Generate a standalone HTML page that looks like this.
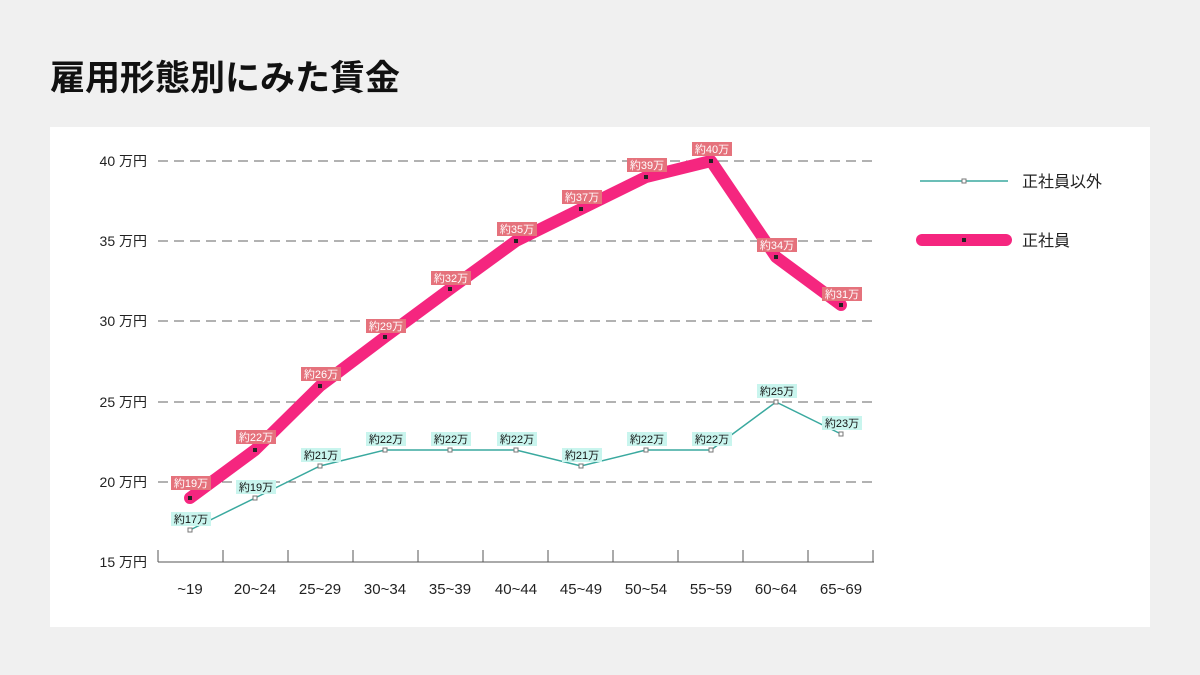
<!DOCTYPE html>
<html><head><meta charset="utf-8"><style>
body{margin:0;width:1200px;height:675px;background:#f0f0f0;font-family:"Liberation Sans","Noto Sans CJK JP",sans-serif;overflow:hidden}
</style></head><body>
<svg width="1200" height="675" xmlns="http://www.w3.org/2000/svg" style="position:absolute;left:0;top:0" font-family="Liberation Sans, Noto Sans CJK JP, sans-serif">
<text x="50" y="90" font-size="35" font-weight="bold" fill="#111">雇用形態別にみた賃金</text>
<rect x="50" y="127" width="1100" height="500" fill="#fff"/>
<g stroke="#666" stroke-width="1" stroke-dasharray="10,6">
<line x1="158" y1="161" x2="875" y2="161"/><line x1="158" y1="241" x2="875" y2="241"/>
<line x1="158" y1="321" x2="875" y2="321"/><line x1="158" y1="402" x2="875" y2="402"/>
<line x1="158" y1="482" x2="875" y2="482"/></g>
<g font-size="14" fill="#222" text-anchor="end">
<text x="147" y="166">40 万円</text><text x="147" y="246">35 万円</text><text x="147" y="326">30 万円</text>
<text x="147" y="407">25 万円</text><text x="147" y="487">20 万円</text><text x="147" y="567">15 万円</text></g>
<g stroke="#555" stroke-width="1"><line x1="158" y1="562" x2="874" y2="562"/>
<line x1="158" y1="550" x2="158" y2="562"/><line x1="223" y1="550" x2="223" y2="562"/><line x1="288" y1="550" x2="288" y2="562"/><line x1="353" y1="550" x2="353" y2="562"/><line x1="418" y1="550" x2="418" y2="562"/><line x1="483" y1="550" x2="483" y2="562"/><line x1="548" y1="550" x2="548" y2="562"/><line x1="613" y1="550" x2="613" y2="562"/><line x1="678" y1="550" x2="678" y2="562"/><line x1="743" y1="550" x2="743" y2="562"/><line x1="808" y1="550" x2="808" y2="562"/><line x1="873" y1="550" x2="873" y2="562"/></g>
<g font-size="15" fill="#222" text-anchor="middle">
<text x="190" y="594">~19</text><text x="255" y="594">20~24</text><text x="320" y="594">25~29</text><text x="385" y="594">30~34</text><text x="450" y="594">35~39</text><text x="516" y="594">40~44</text><text x="581" y="594">45~49</text><text x="646" y="594">50~54</text><text x="711" y="594">55~59</text><text x="776" y="594">60~64</text><text x="841" y="594">65~69</text></g>
<polyline fill="none" stroke="#3aa99f" stroke-width="1.5" points="190,530 255,498 320,466 385,450 450,450 516,450 581,466 646,450 711,450 776,402 841,434"/>
<g fill="#fff" stroke="#777" stroke-width="1">
<rect x="188" y="528" width="4" height="4"/><rect x="253" y="496" width="4" height="4"/><rect x="318" y="464" width="4" height="4"/><rect x="383" y="448" width="4" height="4"/><rect x="448" y="448" width="4" height="4"/><rect x="514" y="448" width="4" height="4"/><rect x="579" y="464" width="4" height="4"/><rect x="644" y="448" width="4" height="4"/><rect x="709" y="448" width="4" height="4"/><rect x="774" y="400" width="4" height="4"/><rect x="839" y="432" width="4" height="4"/></g>
<polyline fill="none" stroke="#f5267f" stroke-width="12" stroke-linejoin="round" stroke-linecap="round" points="190,498 255,450 320,386 385,337 450,289 516,241 581,209 646,177 711,161 776,257 841,305"/>
<g fill="#222">
<rect x="188" y="496" width="4" height="4"/><rect x="253" y="448" width="4" height="4"/><rect x="318" y="384" width="4" height="4"/><rect x="383" y="335" width="4" height="4"/><rect x="448" y="287" width="4" height="4"/><rect x="514" y="239" width="4" height="4"/><rect x="579" y="207" width="4" height="4"/><rect x="644" y="175" width="4" height="4"/><rect x="709" y="159" width="4" height="4"/><rect x="774" y="255" width="4" height="4"/><rect x="839" y="303" width="4" height="4"/></g>
<g font-size="11" text-anchor="middle">
<g fill="#c9f5ee">
<rect x="171" y="512" width="40" height="14"/><rect x="236" y="480" width="40" height="14"/><rect x="301" y="448" width="40" height="14"/><rect x="366" y="432" width="40" height="14"/><rect x="431" y="432" width="40" height="14"/><rect x="497" y="432" width="40" height="14"/><rect x="562" y="448" width="40" height="14"/><rect x="627" y="432" width="40" height="14"/><rect x="692" y="432" width="40" height="14"/><rect x="757" y="384" width="40" height="14"/><rect x="822" y="416" width="40" height="14"/></g>
<g fill="#111">
<text x="191" y="523">約17万</text><text x="256" y="491">約19万</text><text x="321" y="459">約21万</text><text x="386" y="443">約22万</text><text x="451" y="443">約22万</text><text x="517" y="443">約22万</text><text x="582" y="459">約21万</text><text x="647" y="443">約22万</text><text x="712" y="443">約22万</text><text x="777" y="395">約25万</text><text x="842" y="427">約23万</text></g>
<g fill="#e5727c">
<rect x="171" y="476" width="40" height="14"/><rect x="236" y="430" width="40" height="14"/><rect x="301" y="367" width="40" height="14"/><rect x="366" y="319" width="40" height="14"/><rect x="431" y="271" width="40" height="14"/><rect x="497" y="222" width="40" height="14"/><rect x="562" y="190" width="40" height="14"/><rect x="627" y="158" width="40" height="14"/><rect x="692" y="142" width="40" height="14"/><rect x="757" y="238" width="40" height="14"/><rect x="822" y="287" width="40" height="14"/></g>
<g fill="#fff">
<text x="191" y="487">約19万</text><text x="256" y="441">約22万</text><text x="321" y="378">約26万</text><text x="386" y="330">約29万</text><text x="451" y="282">約32万</text><text x="517" y="233">約35万</text><text x="582" y="201">約37万</text><text x="647" y="169">約39万</text><text x="712" y="153">約40万</text><text x="777" y="249">約34万</text><text x="842" y="298">約31万</text></g>
</g>
<line x1="920" y1="181" x2="1008" y2="181" stroke="#3aa99f" stroke-width="1.5"/>
<rect x="962" y="179" width="4" height="4" fill="#fff" stroke="#777"/>
<text x="1022" y="187" font-size="16" fill="#222">正社員以外</text>
<line x1="922" y1="240" x2="1006" y2="240" stroke="#f5267f" stroke-width="12" stroke-linecap="round"/>
<rect x="962" y="238" width="4" height="4" fill="#222"/>
<text x="1022" y="246" font-size="16" fill="#222">正社員</text>
</svg>
</body></html>
